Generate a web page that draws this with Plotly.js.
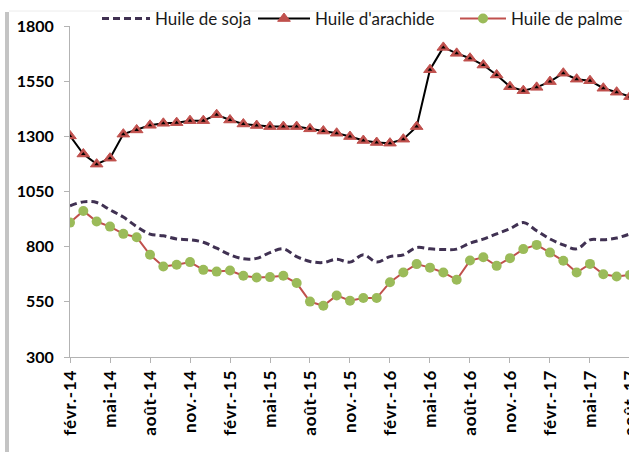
<!DOCTYPE html>
<html>
<head>
<meta charset="utf-8">
<script src="https://cdn.plot.ly/plotly-3.0.1.min.js"></script>
<style>
  html, body { margin: 0; padding: 0; background: #fff; overflow: hidden; }
  #chart { width: 665px; height: 452px; }
  #chart .xtick text { letter-spacing: 0.8px; }
</style>
</head>
<body>
<div id="chart"></div>
<script>
// Mois : févr.-14 -> août-17
var monthNames = ['janv.', 'févr.', 'mars', 'avr.', 'mai', 'juin', 'juil.', 'août', 'sept.', 'oct.', 'nov.', 'déc.'];
var months = [];
for (var k = 0; k < 46; k++) {
  var m = (1 + k) % 12;
  var yr = 14 + Math.floor((1 + k) / 12);
  months.push(monthNames[m] + '-' + yr);
}

var soja = [985, 1003, 1000, 967, 934, 891, 857, 849, 835, 831, 820, 793, 763, 745, 747,
            773, 790, 755, 733, 728, 743, 730, 763, 730, 755, 763, 796,
            790, 787, 789, 816, 834, 858, 881, 909, 872, 835, 808, 790, 831, 831, 839, 858];
var arachide = [1302, 1220, 1174, 1201, 1310, 1329, 1350, 1359, 1362, 1371, 1371, 1398, 1374, 1356, 1349,
                1344, 1344, 1344, 1334, 1324, 1314, 1299, 1281, 1272, 1269, 1287, 1344,
                1602, 1703, 1676, 1654, 1623, 1578, 1525, 1507, 1522, 1548, 1586, 1559, 1552, 1518, 1500, 1480];
var palme = [909, 962, 914, 891, 858, 843, 763, 710, 718, 730, 695, 687, 692, 668, 660,
             662, 668, 635, 551, 532, 579, 555, 567, 567, 639, 683, 721,
             705, 683, 650, 737, 752, 713, 748, 789, 808, 773, 736, 683, 722, 675, 665, 672];

var dataMonths = months.slice(0, soja.length);
// une étiquette tous les 3 mois
var tickVals = months.filter(function (_, i) { return i % 3 === 0; });

// la figure dépasse la fenêtre à droite : coupée comme la capture
var W = 665, H = 452;
var mL = 70, mT = 26, mB = 95, mR = 0;
var pw = W - mL - mR, ph = H - mT - mB;
function px(x) { return (x - mL) / pw; }
function py(y) { return (H - mB - y) / ph; }

var legFont = { family: 'Lato, sans-serif', size: 17, color: '#1a1a1a' };

var traces = [
  {
    x: dataMonths, y: soja, name: 'Huile de soja', type: 'scatter', mode: 'lines',
    line: { color: '#403152', width: 3, dash: '7px,4px', shape: 'spline', smoothing: 1 },
    legend: 'legend'
  },
  {
    x: dataMonths, y: arachide, name: "Huile d'arachide", type: 'scatter', mode: 'lines+markers',
    line: { color: '#000000', width: 2 },
    marker: { symbol: 'triangle-up', size: 11, color: '#c0504d', line: { color: '#c0504d', width: 1 } },
    legend: 'legend2'
  },
  {
    x: dataMonths, y: arachide, type: 'scatter', mode: 'markers', showlegend: false, hoverinfo: 'skip',
    marker: { symbol: 'triangle-up', size: 4, color: '#000000' }
  },
  {
    x: dataMonths, y: palme, name: 'Huile de palme', type: 'scatter', mode: 'lines+markers',
    line: { color: '#c0504d', width: 2 },
    marker: { symbol: 'circle', size: 10, color: '#9bbb59' },
    legend: 'legend3'
  }
];

var layout = {
  width: W, height: H,
  margin: { l: mL, r: mR, t: mT, b: mB, pad: 0 },
  paper_bgcolor: '#fff', plot_bgcolor: '#fff',
  xaxis: {
    type: 'category',
    categoryarray: months,
    range: [0, pw / 13.333],
    tickvals: tickVals, ticktext: tickVals,
    tickangle: -90,
    tickfont: { family: 'Lato, sans-serif', size: 17, color: '#000', weight: 'bold' },
    showgrid: false, zeroline: false,
    showline: true, linecolor: '#b3b3b3', linewidth: 1,
    ticks: 'outside', ticklen: 5, tickcolor: '#b3b3b3'
  },
  yaxis: {
    range: [300, 1800],
    tickvals: [300, 550, 800, 1050, 1300, 1550, 1800],
    tickfont: { family: 'Lato, sans-serif', size: 16, color: '#000', weight: 'bold' },
    showgrid: false, zeroline: false,
    showline: true, linecolor: '#b3b3b3', linewidth: 1,
    ticks: 'outside', ticklen: 5, tickcolor: '#b3b3b3',
    ticklabelstandoff: 7
  },
  legend: { orientation: 'h', x: px(97), y: py(19), xanchor: 'left', yanchor: 'middle',
            font: legFont, itemwidth: 48, bgcolor: 'rgba(0,0,0,0)' },
  legend2: { orientation: 'h', x: px(253), y: py(19), xanchor: 'left', yanchor: 'middle',
             font: legFont, itemwidth: 52, bgcolor: 'rgba(0,0,0,0)' },
  legend3: { orientation: 'h', x: px(455), y: py(19), xanchor: 'left', yanchor: 'middle',
             font: legFont, itemwidth: 46, bgcolor: 'rgba(0,0,0,0)' },
  shapes: [
    // bordure grise de la capture à gauche
    { type: 'rect', xref: 'paper', yref: 'paper', x0: px(5), x1: px(9), y0: py(452), y1: py(12),
      fillcolor: '#c4c4c4', line: { width: 0 }, layer: 'above' },
    { type: 'line', xref: 'paper', yref: 'paper', x0: px(9), x1: px(W), y0: py(11), y1: py(11),
      line: { color: '#ececec', width: 1 } }
  ],
  showlegend: true
};

Plotly.newPlot('chart', traces, layout, { displayModeBar: false, staticPlot: true });
</script>
</body>
</html>
